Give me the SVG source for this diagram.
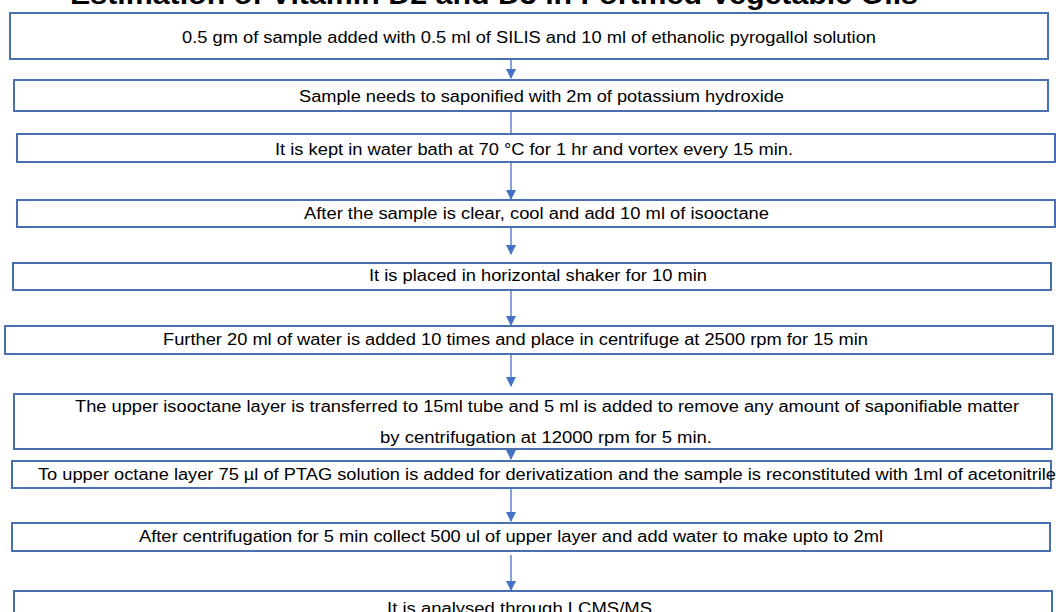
<svg xmlns="http://www.w3.org/2000/svg" width="1056" height="612" viewBox="0 0 1056 612">
<defs>
<marker id="ah" markerWidth="10" markerHeight="10" refX="9" refY="5" orient="auto" markerUnits="userSpaceOnUse">
<path d="M0,0 L10,5 L0,10 Z" fill="#4472C4"/>
</marker>
<style>
.box{fill:#ffffff;stroke:#4A6FAE;stroke-width:2}
.t{font-family:"Liberation Sans",Arial,sans-serif;font-size:16px;fill:#000000}
.title{font-family:"Liberation Sans",Arial,sans-serif;font-size:27px;font-weight:bold;fill:#000000}
.c{stroke:#4472C4;stroke-width:1.3;fill:none}
.ca{stroke:#4472C4;stroke-width:1.3;fill:none;marker-end:url(#ah)}
</style>
</defs>
<rect width="1056" height="612" fill="#ffffff"/>
<text class="title" x="70" y="4" textLength="848" lengthAdjust="spacingAndGlyphs">Estimation of Vitamin D2 and D3 in Fortified Vegetable Oils</text>
<g id="connectors">
<line class="ca" x1="511" y1="60" x2="511" y2="78"/>
<line class="c" x1="511" y1="111" x2="511" y2="134"/>
<line class="ca" x1="511" y1="162" x2="511" y2="199"/>
<line class="ca" x1="511" y1="227" x2="511" y2="254"/>
<line class="ca" x1="511" y1="290" x2="511" y2="325"/>
<line class="ca" x1="511" y1="354" x2="511" y2="386"/>
<line class="ca" x1="511" y1="437" x2="511" y2="459"/>
<line class="ca" x1="511" y1="488" x2="511" y2="521"/>
<line class="ca" x1="511" y1="555" x2="511" y2="590"/>
</g>
<g id="n1"><rect class="box" x="10" y="13" width="1038" height="46"/><text class="t" x="182" y="42.5" textLength="694" lengthAdjust="spacingAndGlyphs">0.5 gm of sample added with 0.5 ml of SILIS and 10 ml of ethanolic pyrogallol solution</text></g>
<g id="n2"><rect class="box" x="14" y="80" width="1034" height="31"/><text class="t" x="299" y="101.5" textLength="485" lengthAdjust="spacingAndGlyphs">Sample needs to saponified with 2m of potassium hydroxide</text></g>
<g id="n3"><rect class="box" x="17" y="134" width="1038" height="28"/><text class="t" x="275" y="154.5" textLength="518" lengthAdjust="spacingAndGlyphs">It is kept in water bath at 70 °C for 1 hr and vortex every 15 min.</text></g>
<g id="n4"><rect class="box" x="17" y="200" width="1038" height="27"/><text class="t" x="304" y="218.5" textLength="465" lengthAdjust="spacingAndGlyphs">After the sample is clear, cool and add 10 ml of isooctane</text></g>
<g id="n5"><rect class="box" x="13" y="263" width="1038" height="27"/><text class="t" x="369" y="280.5" textLength="338" lengthAdjust="spacingAndGlyphs">It is placed in horizontal shaker for 10 min</text></g>
<g id="n6"><rect class="box" x="5" y="326" width="1048" height="28"/><text class="t" x="163" y="344.5" textLength="705" lengthAdjust="spacingAndGlyphs">Further 20 ml of water is added 10 times and place in centrifuge at 2500 rpm for 15 min</text></g>
<g id="n7"><rect class="box" x="14" y="394" width="1038" height="55"/><text class="t" x="75" y="411.5" textLength="944" lengthAdjust="spacingAndGlyphs">The upper isooctane layer is transferred to 15ml tube and 5 ml is added to remove any amount of saponifiable matter</text><text class="t" x="380" y="442.5" textLength="332" lengthAdjust="spacingAndGlyphs">by centrifugation at 12000 rpm for 5 min.</text></g>
<g id="n8"><rect class="box" x="12" y="461" width="1039" height="27"/><text class="t" x="38" y="479.5" textLength="1018" lengthAdjust="spacingAndGlyphs">To upper octane layer 75 µl of PTAG solution is added for derivatization and the sample is reconstituted with 1ml of acetonitrile</text></g>
<g id="n9"><rect class="box" x="12" y="523" width="1038" height="28"/><text class="t" x="139" y="541.5" textLength="744" lengthAdjust="spacingAndGlyphs">After centrifugation for 5 min collect 500 ul of upper layer and add water to make upto to 2ml</text></g>
<g id="n10"><rect class="box" x="14" y="591" width="1038" height="30"/><text class="t" x="387" y="614" textLength="265" lengthAdjust="spacingAndGlyphs">It is analysed through LCMS/MS</text></g>
</svg>
